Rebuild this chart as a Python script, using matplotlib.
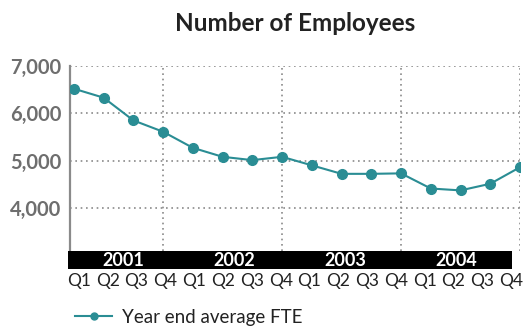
import numpy as np
import matplotlib
matplotlib.use('Agg')
import matplotlib.pyplot as plt
from matplotlib.lines import Line2D

plt.rcParams['font.family'] = ['Lato', 'DejaVu Sans']

# quarterly headcount, 2001 Q1 .. 2004 Q4
years = ['2001', '2002', '2003', '2004']
quarters = ['Q1', 'Q2', 'Q3', 'Q4']
fte = [6520, 6330, 5850, 5610, 5270, 5080, 5010, 5080,
       4900, 4720, 4720, 4730, 4410, 4370, 4510, 4860]
yticks = [4000, 5000, 6000, 7000]

teal = '#2a8d94'
grey = '#8a8a8a'
W, H = 532, 326

fig = plt.figure(figsize=(W / 100, H / 100), dpi=100)

# main plot
ax = fig.add_axes([70 / W, 75.3 / H, 450 / W, 184.7 / H])
x = np.arange(len(fte))
ax.plot(x, fte, color=teal, lw=1.5, marker='o', ms=7, zorder=3)
ax.set_xlim(-0.13, len(fte) - 1)
ax.set_ylim(3095, 7000)
ax.set_yticks(yticks)
ax.set_yticklabels([f'{v:,}' for v in yticks], fontsize=14.5,
                   fontweight='bold', color='#6e6e6e')
ax.tick_params(axis='y', length=0, pad=6)
ax.set_xticks([])
for v in yticks:
    ax.axhline(v, color=grey, lw=1.2, ls=(0, (1, 2.2)), zorder=1)
for i in range(len(years)):
    ax.axvline(4 * i + 3, color=grey, lw=1.2, ls=(0, (1, 2.2)), zorder=1)
for s in ['top', 'right', 'bottom']:
    ax.spines[s].set_visible(False)
ax.spines['left'].set_color(grey)
ax.spines['left'].set_linewidth(1.6)

ax.set_title('Number of Employees', fontsize=17.5, fontweight='bold',
             color='#222222', pad=25)

# black year band with quarter labels beneath
bar = fig.add_axes([68 / W, (H - 269.3) / H, 444 / W, 18.6 / H])
bar.set_facecolor('black')
bar.set_ylim(0, 1)
lo, hi = -0.38, len(fte) - 1 + 0.03
bar.set_xlim(lo, hi)
bar.set_xticks(x)
bar.set_xticklabels(quarters * len(years), fontsize=12.5, color='#222222')
bar.tick_params(axis='x', length=0, pad=3)
bar.set_yticks([])
for s in bar.spines.values():
    s.set_visible(False)
seg = (hi - lo) / len(years)
for i, yr in enumerate(years):
    bar.text(lo + seg * (i + 0.5), 0.45, yr, color='white', fontsize=13,
             fontweight='bold', ha='center', va='center')

# legend
handle = Line2D([], [], color=teal, lw=1.5, marker='o', ms=5)
fig.legend([handle], ['Year end average FTE'], loc='center left',
           bbox_to_anchor=(58 / W, 1 - 317 / H), frameon=False,
           fontsize=13.5, handlelength=2.0, handletextpad=0.5,
           labelcolor='#222222')

fig.savefig('out.png', dpi=100)
